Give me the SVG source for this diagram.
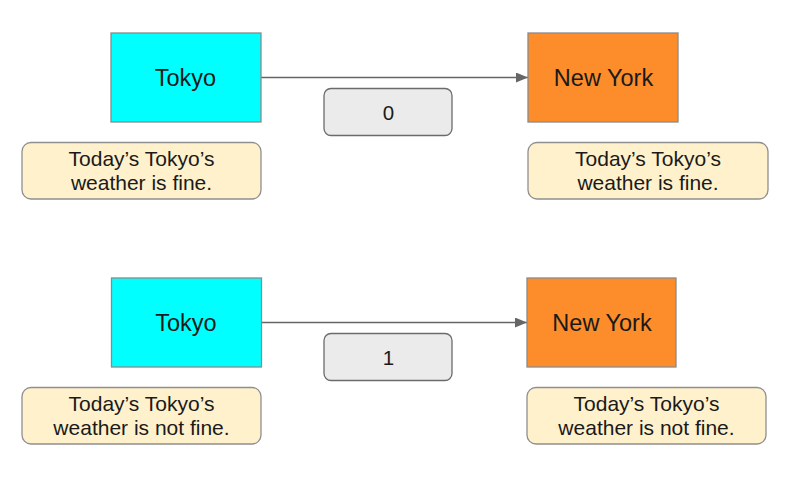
<svg xmlns="http://www.w3.org/2000/svg" width="810" height="493" viewBox="0 0 810 493">
<style>
text{font-family:"Liberation Sans",Arial,sans-serif;fill:#1a1a1a;text-anchor:middle}
.tk{fill:#00ffff;stroke:#8a8a8a;stroke-width:1.3}
.ny{fill:#fd8c2b;stroke:#8a8a8a;stroke-width:1.3}
.note{fill:#fff1cc;stroke:#8f8f8f;stroke-width:1.3}
.lbl{fill:#ebebeb;stroke:#6b6b6b;stroke-width:1.3}
.big{font-size:23.5px}
.nt{font-size:21px}
.num{font-size:20.5px}
.conn{stroke:#666;stroke-width:1.3;fill:none}
</style>
<defs>
<marker id="arr" markerWidth="12" markerHeight="10" refX="12" refY="5" orient="auto" markerUnits="userSpaceOnUse">
<path d="M0,0 L12,5 L0,10 Z" fill="#666"/>
</marker>
</defs>
<rect width="810" height="493" fill="#fff"/>
<g id="connectors">
<line class="conn" x1="261" y1="77.5" x2="528" y2="77.5" marker-end="url(#arr)"/>
<line class="conn" x1="261" y1="322.5" x2="527" y2="322.5" marker-end="url(#arr)"/>
</g>
<g id="tokyo1"><rect class="tk" x="111" y="33" width="150" height="89"/><text class="big" x="185.5" y="86">Tokyo</text></g>
<g id="newyork1"><rect class="ny" x="528" y="33" width="150" height="89"/><text class="big" x="603.5" y="86">New York</text></g>
<g id="label1"><rect class="lbl" x="324" y="88.5" width="128" height="47" rx="7"/><text class="num" x="388.5" y="120">0</text></g>
<g id="note1"><rect class="note" x="22" y="142.5" width="239" height="56.5" rx="9"/><text class="nt" x="141.5" y="165.5">Today’s Tokyo’s</text><text class="nt" x="141.5" y="190">weather is fine.</text></g>
<g id="note2"><rect class="note" x="528" y="142.5" width="240" height="56.5" rx="9"/><text class="nt" x="648" y="165.5">Today’s Tokyo’s</text><text class="nt" x="648" y="190">weather is fine.</text></g>
<g id="tokyo2"><rect class="tk" x="111.5" y="278" width="150" height="89"/><text class="big" x="186" y="331">Tokyo</text></g>
<g id="newyork2"><rect class="ny" x="527" y="278" width="149" height="89"/><text class="big" x="602" y="331">New York</text></g>
<g id="label2"><rect class="lbl" x="324" y="333.5" width="128" height="47" rx="7"/><text class="num" x="388.5" y="365">1</text></g>
<g id="note3"><rect class="note" x="22" y="387.5" width="239" height="56.5" rx="9"/><text class="nt" x="141.5" y="410.5">Today’s Tokyo’s</text><text class="nt" x="141.5" y="435">weather is not fine.</text></g>
<g id="note4"><rect class="note" x="527" y="387.5" width="239" height="56.5" rx="9"/><text class="nt" x="646.5" y="410.5">Today’s Tokyo’s</text><text class="nt" x="646.5" y="435">weather is not fine.</text></g>
</svg>
